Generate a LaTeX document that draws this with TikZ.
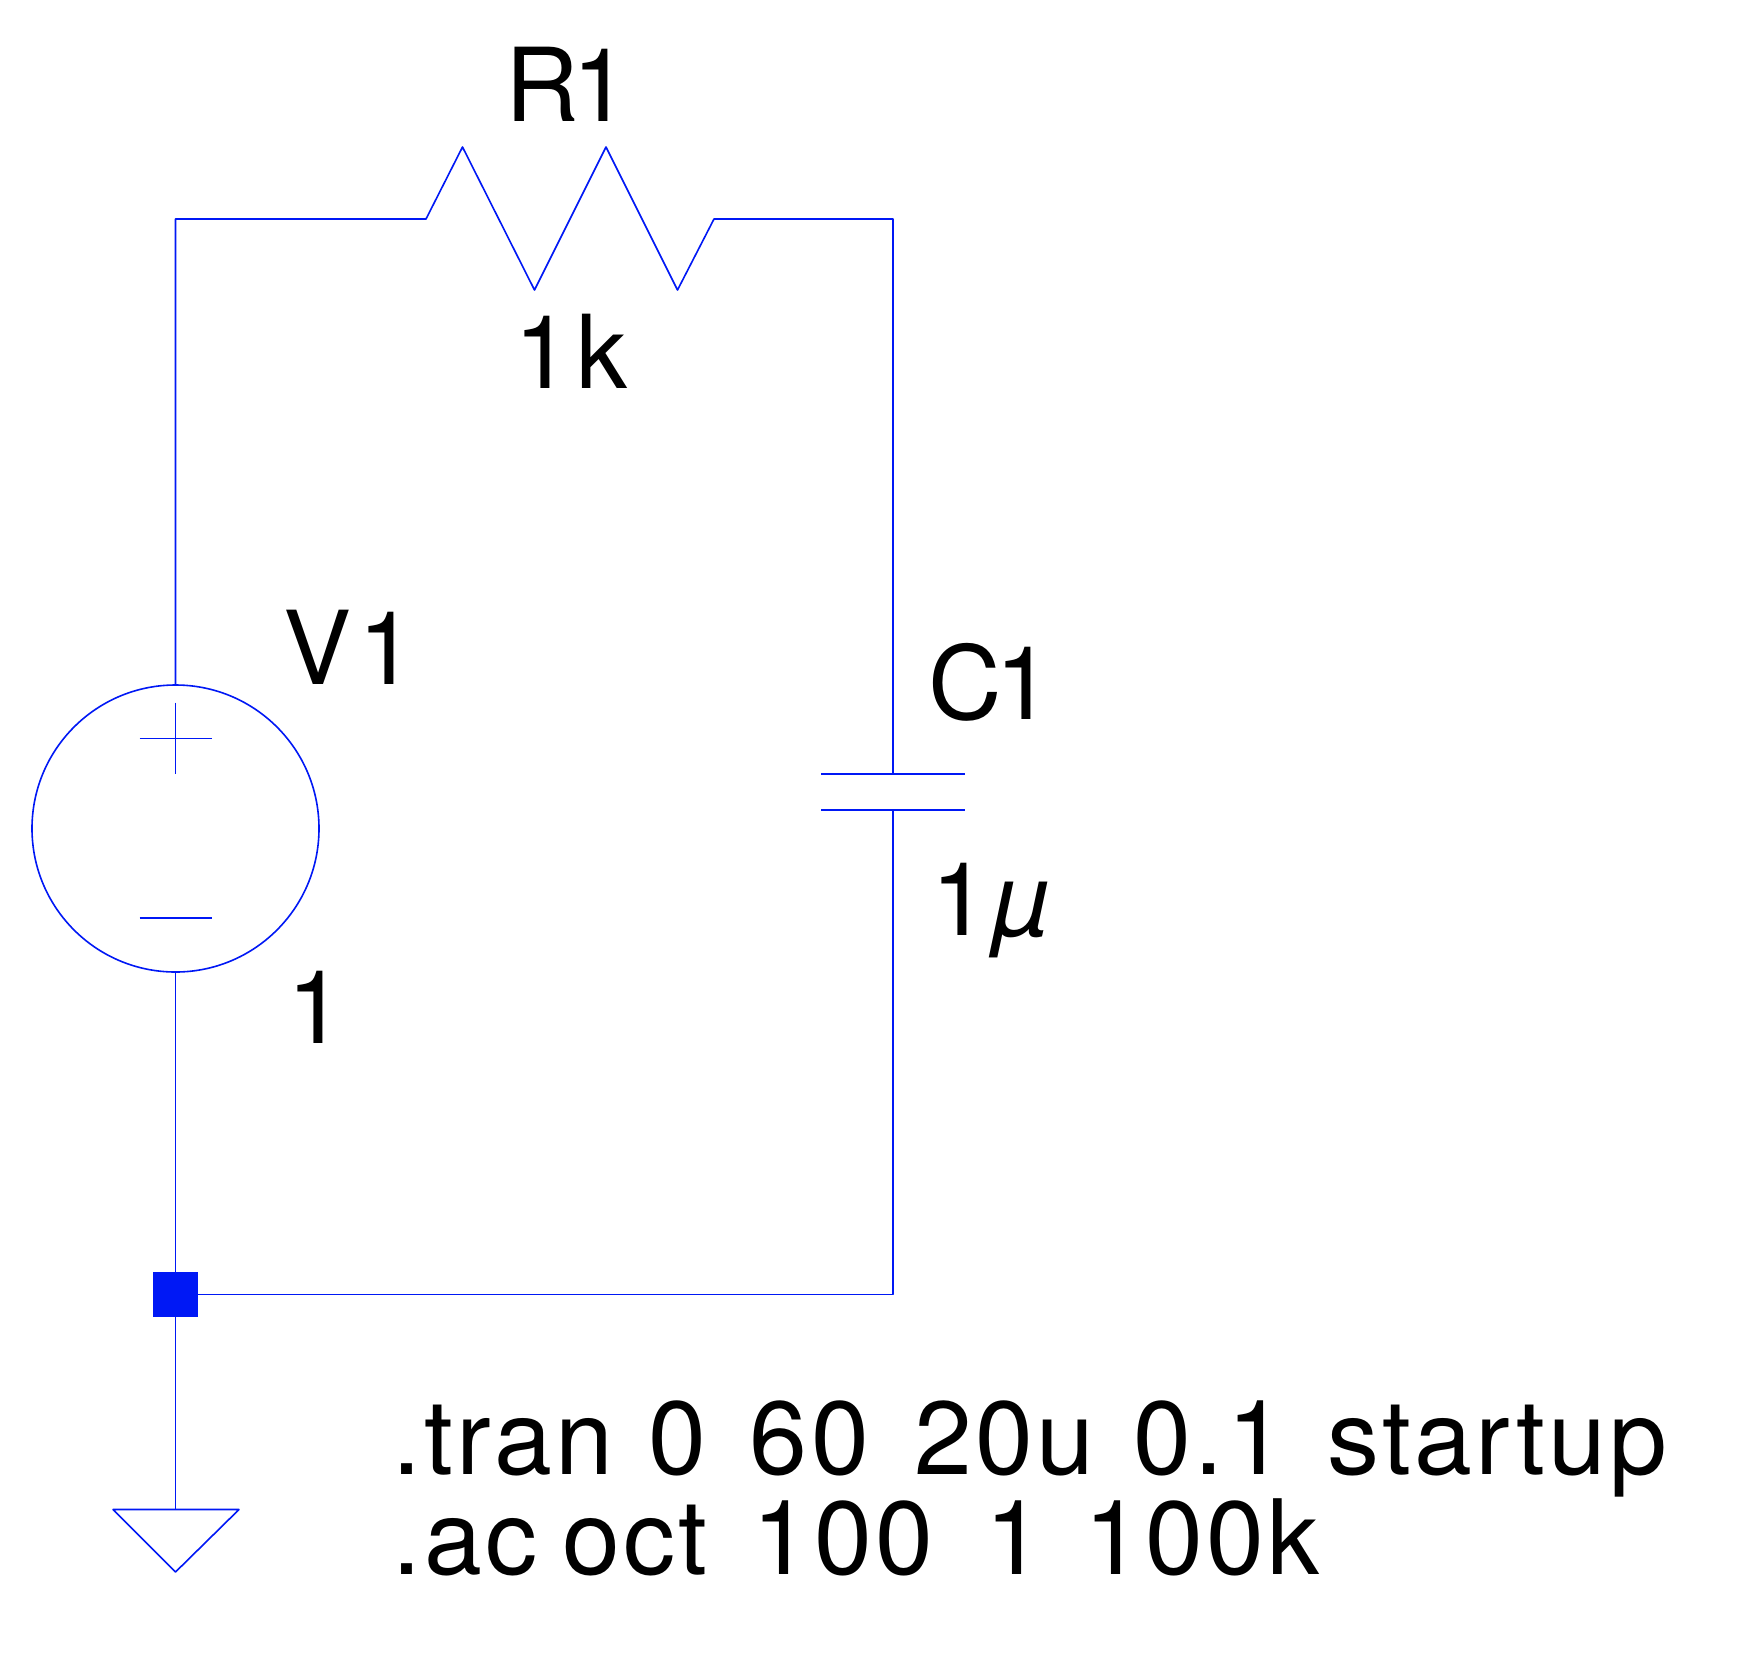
\documentclass[tikz,border=0pt]{standalone}
\usepackage{fontspec}
\setmainfont{TeX Gyre Heros}
\newfontfamily\cmdfont[LetterSpace=3.2,WordSpace=1.35]{TeX Gyre Heros}
\definecolor{wire}{RGB}{0,24,245}
\tikzset{
  wireline/.style={draw=wire,line width=1.6pt,line join=round},
  lbl/.style={inner sep=0pt,anchor=base west,text=black,font=\fontsize{102}{102}\selectfont},
  cmd/.style={inner sep=0pt,anchor=base west,text=black,font=\cmdfont\fontsize{104}{104}\selectfont},
}
\begin{document}
\begin{tikzpicture}[x=1pt,y=-1pt]
\useasboundingbox (0,0) rectangle (1752,1668);
\fill[white] (0,0) rectangle (1752,1668);
\coordinate (tl) at (175.5,219);
\coordinate (rs) at (426,219);
\coordinate (re) at (714,219);
\coordinate (tr) at (893,219);
\coordinate (ct) at (893,774);
\coordinate (cb) at (893,810);
\coordinate (br) at (893,1294.5);
\node[circle,draw=wire,line width=1.6pt,minimum size=287pt,inner sep=0pt] (src) at (175.5,828.5) {};
\node[rectangle,fill=wire,minimum size=45pt,inner sep=0pt] (junc) at (175.5,1294.5) {};
\coordinate (gnd) at (175.5,1509.5);
\draw[wireline] (src.north) -- (tl) -- (rs) -- (462.5,147) -- (534.5,290) -- (606,147) -- (677.5,290) -- (re) -- (tr) -- (ct);
\draw[wireline] (cb) -- (br) -- (junc.east);
\draw[wireline] (src.south) -- (junc.north);
\draw[wireline] (junc.south) -- (gnd);
\draw[wireline] (113,1509.5) -- (239,1509.5) -- (175.5,1572) -- cycle;
\draw[wireline] (821,774) -- (964.5,774);
\draw[wireline] (821,810) -- (964.5,810);
\draw[wireline] (139.5,738.5) -- (211.5,738.5);
\draw[wireline] (175.5,702.5) -- (175.5,774);
\draw[wireline] (139.5,918) -- (211.5,918);
\node[lbl] (r1) at (505,121) {R\kern-6pt 1};
\node[lbl] (r1v) at (514,388) {1\kern6pt k};
\node[lbl] (v1) at (283,684) {V\kern7pt 1};
\node[lbl] (v1v) at (287,1043) {1};
\node[lbl] (c1) at (928,719) {C\kern-6pt 1};
\node[lbl] (c1v) at (931,935) {1\kern5pt\textit{µ}};
\node[cmd] (tran) at (392,1474) {.tran\kern-8pt\ 0 60\kern2pt\ 20u\kern-4.5pt\ 0.1\kern-1pt\ startup};
\node[cmd] (ac) at (392,1574) {.ac\kern-19pt\ oct\kern2pt\ 100\kern9pt\ 1\kern-3pt\ 100k};
\end{tikzpicture}
\end{document}
